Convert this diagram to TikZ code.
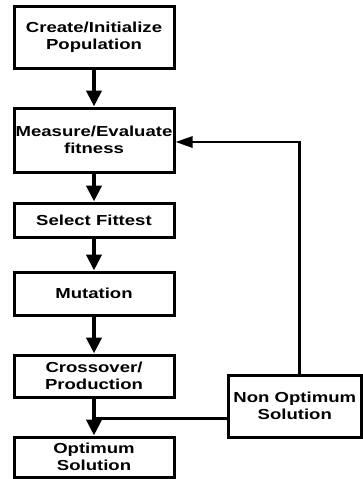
\documentclass[tikz,border=0pt]{standalone}
\usepackage{fontspec}
\newfontfamily\boxfont{Liberation Sans}[FakeStretch=1.28]
\usetikzlibrary{arrows.meta,calc}
\tikzset{
  procbox/.style={draw=black, line width=3pt, fill=white, align=center, inner sep=0pt,
    minimum width=160pt, font=\boxfont\bfseries\fontsize{14.5}{17}\selectfont},
  flowarrow/.style={line width=4pt, -{Triangle[length=16pt,width=15pt]}},
  joinline/.style={line width=3pt},
  backarrow/.style={line width=2.8pt, -{Triangle[length=17pt,width=11pt]}}
}
\begin{document}
\begin{tikzpicture}[x=1pt,y=-1pt]
\useasboundingbox (0,0) rectangle (363,479);
\node[procbox, minimum height=62pt] (create) at (94,37) {Create/Initialize\\Population};
\node[procbox, minimum height=64pt] (measure) at (94,140) {Measure/Evaluate\\fitness};
\node[procbox, minimum height=34pt] (select) at (94,220) {Select Fittest};
\node[procbox, minimum height=43pt] (mutation) at (94,293.5) {Mutation};
\node[procbox, minimum height=42pt] (cross) at (94,376) {Crossover/\\Production};
\node[procbox, minimum height=40pt] (opt) at (94,457) {Optimum\\Solution};
\node[procbox, minimum height=62pt, minimum width=133.5pt] (nonopt) at (294.75,406) {Non Optimum\\Solution};
\coordinate (junc) at (94,418);
\coordinate (fbx) at (299.5,142);
\draw[flowarrow] (create.south) -- (measure.north);
\draw[flowarrow] (measure.south) -- (select.north);
\draw[flowarrow] (select.south) -- (mutation.north);
\draw[flowarrow] (mutation.south) -- (cross.north);
\draw[flowarrow] (cross.south) -- (opt.north);
\draw[joinline] (nonopt.west |- junc) -- (junc);
\draw[backarrow] (nonopt.north -| fbx) -- (fbx) -- (measure.east |- fbx);
\end{tikzpicture}
\end{document}
